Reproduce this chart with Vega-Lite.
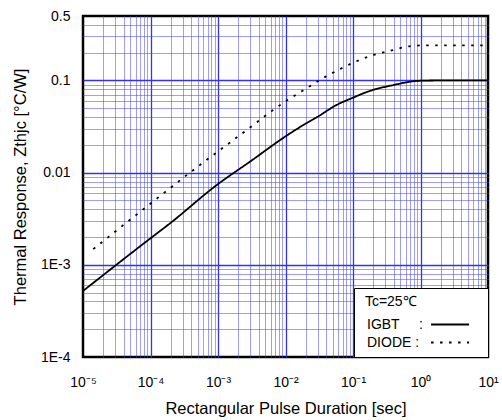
{
  "$schema": "https://vega.github.io/schema/vega-lite/v6.json",
  "width": 405,
  "height": 341,
  "autosize": {"type": "none"},
  "padding": {"left": 83, "top": 16, "right": 14, "bottom": 63},
  "background": "white",
  "config": {
    "font": "Liberation Sans",
    "view": {"stroke": "black", "strokeWidth": 2.5},
    "axis": {
      "domain": false,
      "ticks": false,
      "labelColor": "black",
      "labelFont": "Liberation Sans",
      "labelFontSize": 14,
      "titleFont": "Liberation Sans",
      "titleFontSize": 16.5,
      "titleFontWeight": "normal",
      "titleColor": "black",
      "labelOverlap": false,
      "labelFlush": false,
      "labelBound": false
    }
  },
  "data": {
    "values": [
      {"t": 0.00001, "z": 0.00052, "device": "IGBT"},
      {"t": 0.0001, "z": 0.00194, "device": "IGBT"},
      {"t": 0.000195, "z": 0.00282, "device": "IGBT"},
      {"t": 0.00096, "z": 0.00735, "device": "IGBT"},
      {"t": 0.003, "z": 0.0132, "device": "IGBT"},
      {"t": 0.0099, "z": 0.0246, "device": "IGBT"},
      {"t": 0.0186, "z": 0.033, "device": "IGBT"},
      {"t": 0.0293, "z": 0.04, "device": "IGBT"},
      {"t": 0.058, "z": 0.0545, "device": "IGBT"},
      {"t": 0.097, "z": 0.0644, "device": "IGBT"},
      {"t": 0.181, "z": 0.0773, "device": "IGBT"},
      {"t": 0.359, "z": 0.0877, "device": "IGBT"},
      {"t": 1, "z": 0.0993, "device": "IGBT"},
      {"t": 2, "z": 0.1, "device": "IGBT"},
      {"t": 10, "z": 0.1, "device": "IGBT"},
      {"t": 0.0000142, "z": 0.00148, "device": "DIODE"},
      {"t": 0.000104, "z": 0.00472, "device": "DIODE"},
      {"t": 0.000433, "z": 0.0107, "device": "DIODE"},
      {"t": 0.00108, "z": 0.0177, "device": "DIODE"},
      {"t": 0.00337, "z": 0.033, "device": "DIODE"},
      {"t": 0.0061, "z": 0.046, "device": "DIODE"},
      {"t": 0.0107, "z": 0.0612, "device": "DIODE"},
      {"t": 0.0192, "z": 0.0798, "device": "DIODE"},
      {"t": 0.034, "z": 0.1035, "device": "DIODE"},
      {"t": 0.0614, "z": 0.1306, "device": "DIODE"},
      {"t": 0.1086, "z": 0.1596, "device": "DIODE"},
      {"t": 0.192, "z": 0.187, "device": "DIODE"},
      {"t": 0.359, "z": 0.21, "device": "DIODE"},
      {"t": 0.62, "z": 0.232, "device": "DIODE"},
      {"t": 1.12, "z": 0.24, "device": "DIODE"},
      {"t": 10, "z": 0.24, "device": "DIODE"}
    ]
  },
  "mark": {"type": "line", "color": "black", "strokeWidth": 1.8, "interpolate": "monotone", "clip": true},
  "encoding": {
    "x": {
      "field": "t",
      "type": "quantitative",
      "scale": {"type": "log", "domain": [0.00001, 10], "nice": false},
      "axis": {
        "title": "Rectangular Pulse Duration [sec]",
        "values": [0.00001,0.00002,0.00003,0.00004,0.00005,0.00006,0.00007,0.00008,0.00009,
                   0.0001,0.0002,0.0003,0.0004,0.0005,0.0006,0.0007,0.0008,0.0009,
                   0.001,0.002,0.003,0.004,0.005,0.006,0.007,0.008,0.009,
                   0.01,0.02,0.03,0.04,0.05,0.06,0.07,0.08,0.09,
                   0.1,0.2,0.3,0.4,0.5,0.6,0.7,0.8,0.9,
                   1,2,3,4,5,6,7,8,9,10],
        "labelExpr": "abs(log(datum.value)/LN10 - round(log(datum.value)/LN10)) < 0.001 ? ['10⁻⁵','10⁻⁴','10⁻³','10⁻²','10⁻¹','10⁰','10¹'][round(log(datum.value)/LN10)+5] : ''",
        "labelPadding": 18,
        "titlePadding": 11,
        "grid": true,
        "gridWidth": {"condition": {"test": "abs(log(datum.value)/LN10 - round(log(datum.value)/LN10)) < 0.001", "value": 1.3}, "value": 1},
        "gridColor": {"condition": {"test": "abs(log(datum.value)/LN10 - round(log(datum.value)/LN10)) < 0.001", "value": "#3030ff"}, "value": "#3a3aff"},
        "gridOpacity": {"condition": {"test": "datum.value < 0.0000101 || datum.value > 9.99", "value": 0}, "value": 1},
        "gridDash": {"condition": {"test": "abs(log(datum.value)/LN10 - round(log(datum.value)/LN10)) < 0.001", "value": [1, 0]}, "value": [1, 1]}
      }
    },
    "y": {
      "field": "z",
      "type": "quantitative",
      "scale": {"type": "log", "domain": [0.0001, 0.5], "nice": false},
      "axis": {
        "title": "Thermal Response, Zthjc [°C/W]",
        "values": [0.0001,0.0002,0.0003,0.0004,0.0005,0.0006,0.0007,0.0008,0.0009,
                   0.001,0.002,0.003,0.004,0.005,0.006,0.007,0.008,0.009,
                   0.01,0.02,0.03,0.04,0.05,0.06,0.07,0.08,0.09,
                   0.1,0.2,0.3,0.4,0.5],
        "labelExpr": "datum.value == 0.5 ? '0.5' : datum.value == 0.1 ? '0.1' : datum.value == 0.01 ? '0.01' : datum.value == 0.001 ? '1E-3' : datum.value == 0.0001 ? '1E-4' : ''",
        "labelPadding": 13,
        "titlePadding": 12,
        "grid": true,
        "gridWidth": {"condition": {"test": "abs(log(datum.value)/LN10 - round(log(datum.value)/LN10)) < 0.001", "value": 1.3}, "value": 1},
        "gridColor": {"condition": {"test": "abs(log(datum.value)/LN10 - round(log(datum.value)/LN10)) < 0.001", "value": "#3030ff"}, "value": "#3a3aff"},
        "gridOpacity": {"condition": {"test": "datum.value < 0.000101 || datum.value > 0.499", "value": 0}, "value": 1},
        "gridDash": {"condition": {"test": "abs(log(datum.value)/LN10 - round(log(datum.value)/LN10)) < 0.001", "value": [1, 0]}, "value": [1, 1]}
      }
    },
    "strokeDash": {
      "field": "device",
      "type": "nominal",
      "scale": {"domain": ["IGBT", "DIODE"], "range": [[1, 0], [2.5, 6.5]]},
      "legend": {
        "title": "\u200b\u00a0Tc=25℃",
        "orient": "bottom-right",
        "offset": 0,
        "fillColor": "white",
        "strokeColor": "black",
        "padding": 7,
        "symbolType": "M6.27,0H10.27M11.1,0h0.001",
        "symbolSize": 361,
        "symbolStrokeWidth": 1.8,
        "symbolStrokeColor": "black",
        "symbolOffset": 0,
        "labelOffset": -15,
        "labelLimit": 400,
        "labelFont": "Liberation Sans",
        "labelFontSize": 14,
        "labelColor": "black",
        "titleFont": "Liberation Sans",
        "titleFontSize": 14,
        "titleFontWeight": "normal",
        "titleColor": "black",
        "titlePadding": 5,
        "rowPadding": 0,
        "labelExpr": "datum.label == 'IGBT' ? 'IGBT\u00a0\u00a0\u00a0\u00a0\u00a0:' : 'DIODE\u00a0:'"
      }
    }
  }
}
